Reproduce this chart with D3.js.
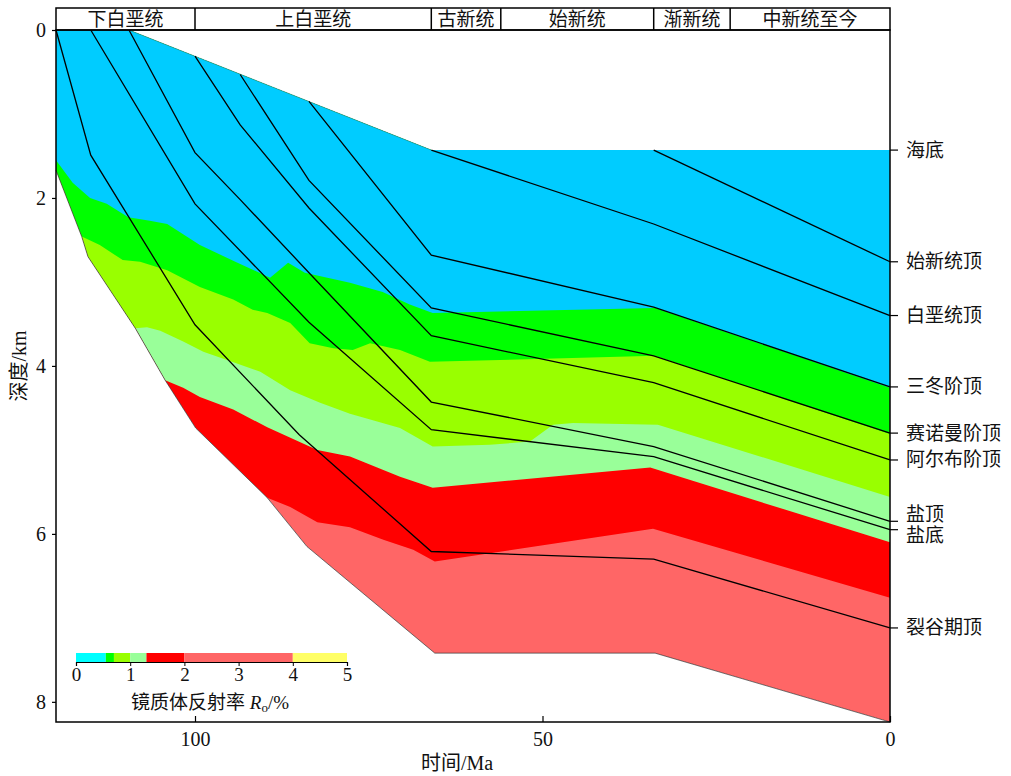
<!DOCTYPE html>
<html><head><meta charset="utf-8">
<script src="https://cdn.jsdelivr.net/npm/d3@7/dist/d3.min.js"></script>
<style>
body{margin:0;background:#fff;}
svg text{font-family:"Liberation Serif","Noto Sans CJK SC",serif;fill:#111;}
</style></head>
<body><svg id="c" width="1011" height="776"></svg>
<script>
// ---------- data ----------
const stageNames = ["下白垩统","上白垩统","古新统","始新统","渐新统","中新统至今"];
const stageBounds = [120, 100, 66, 56, 34, 23, 0];

const seafloor = [[120,0],[109.5,0],[66,1.43],[0,1.43]];
const basement = [[120,1.67],[116.3,2.46],[115.4,2.70],[108.6,3.55],[104.3,4.17],[99.9,4.74],[89.6,5.57],[83.9,6.15],[65.5,7.42],[33.8,7.42],[0,8.24]];

const horizonNames = ["始新统顶","白垩统顶","三冬阶顶","赛诺曼阶顶","阿尔布阶顶","盐顶","盐底","裂谷期顶"];
const hEocene    = [[34,1.43],[0,2.76]];
const hCret      = [[66,1.43],[34,2.31],[0,3.40]];
const hSantonian = [[83.6,0.85],[66,2.68],[34,3.30],[0,4.25]];
const hCenoman   = [[93.5,0.53],[83.6,1.79],[66,3.31],[34,3.88],[0,4.80]];
const hAlbian    = [[100,0.31],[93.5,1.13],[83.6,2.12],[66,3.64],[34,4.20],[0,5.12]];
const hSaltTop   = [[109.5,0],[100,1.46],[93.5,2.02],[83.6,2.89],[66,4.43],[34,4.96],[0,5.85]];
const hSaltBase  = [[115,0],[100,2.07],[83.6,3.48],[66,4.76],[34,5.08],[0,5.95]];
const hRift      = [[120,0],[115,1.49],[100,3.51],[85,4.82],[66,6.21],[34,6.30],[0,7.12]];
const horizons = [hEocene,hCret,hSantonian,hCenoman,hAlbian,hSaltTop,hSaltBase,hRift];

// Ro iso-lines (boundary below each zone)
const ro055 = [[120,1.55],[117.6,1.82],[115.1,2.00],[112.7,2.07],[109.6,2.23],[106.5,2.27],[104,2.31],[99.3,2.56],[94.2,2.76],[89.2,2.95],[86.6,2.77],[84.2,2.89],[77.7,3.01],[73,3.12],[69.1,3.27],[65.8,3.37],[33.8,3.31],[0,4.26]];
const ro07  = [[116.3,2.46],[113.7,2.56],[110.4,2.74],[107.9,2.76],[104,2.86],[99.3,3.06],[94.5,3.21],[91.7,3.33],[89.6,3.37],[86.3,3.49],[83.5,3.73],[80.1,3.79],[77.3,3.81],[74.8,3.73],[70.5,3.81],[66.2,3.95],[33.8,3.88],[0,4.81]];
const ro10  = [[108.6,3.55],[106.9,3.54],[105,3.58],[101.7,3.71],[98.8,3.83],[95.4,3.93],[90.6,4.07],[86.3,4.29],[82,4.44],[77.7,4.57],[70.5,4.74],[65.8,4.96],[57.6,4.94],[51.8,4.90],[48.5,4.70],[45.6,4.68],[33.4,4.70],[0,5.56]];
const ro13  = [[104.3,4.17],[101.7,4.26],[99.3,4.37],[94.5,4.52],[89.6,4.73],[82.4,5.00],[77.7,5.08],[70.5,5.32],[65.8,5.45],[34.5,5.21],[0,6.10]];
const ro20  = [[89.6,5.57],[86.3,5.68],[82.4,5.86],[77.7,5.92],[72.9,6.07],[68.6,6.19],[65.5,6.33],[34.1,5.94],[0,6.76]];

const zoneColors = ["#00CCFF","#00FF00","#99FF00","#99FF99","#FF0000","#FF6666"];
const legendBreaks = [0,0.55,0.7,1.0,1.3,2.0,4.0,5.0];
const legendColors = ["#00FFFF","#00FF00","#99FF00","#99FF99","#FF0000","#FF6666","#FFFF66"];
const legendTicks = [0,1,2,3,4,5];
const depthTicks = [0,2,4,6,8];
const timeTicks = [100,50,0];

// ---------- drawing ----------
const svg = d3.select("#c");
const x = d3.scaleLinear().domain([120,0]).range([56,890]);
const y = d3.scaleLinear().domain([0,8.24]).range([30,722]);
const line = d3.line().x(d=>x(d[0])).y(d=>y(d[1]));

// section polygon: seafloor + right edge + basement reversed
const section = seafloor.concat([[0,8.24]]).concat(basement.slice().reverse());
svg.append("clipPath").attr("id","sec").append("path").attr("d", line(section)+"Z");

const g = svg.append("g").attr("clip-path","url(#sec)");
g.append("path").attr("d", line(section)+"Z").attr("fill", zoneColors[5]);

const isos = [ro20, ro13, ro10, ro07, ro055];
const isoColors = [zoneColors[4], zoneColors[3], zoneColors[2], zoneColors[1], zoneColors[0]];
isos.forEach((iso,i)=>{
  const t0 = iso[0][0];
  const ext = basement.filter(p=>p[0] > t0 + 0.01);
  const poly = [[121,-1]].concat(ext, iso, [[-1,iso[iso.length-1][1]],[-1,-1]]);
  g.append("path").attr("d", line(poly)+"Z").attr("fill", isoColors[i]);
});

// outline strokes
svg.append("path").attr("d", line(basement)).attr("fill","none").attr("stroke","#333").attr("stroke-width",0.7);
svg.append("path").attr("d", line(seafloor.slice(1,3))).attr("fill","none").attr("stroke","#2a6f8a").attr("stroke-width",0.5);

// horizons
horizons.forEach(h=>{
  svg.append("path").attr("d", line(h)).attr("fill","none").attr("stroke","#000").attr("stroke-width",1.3);
});

// frame
svg.append("rect").attr("x",56).attr("y",30).attr("width",834).attr("height",692)
  .attr("fill","none").attr("stroke","#000").attr("stroke-width",1.5);

// stage bar
svg.append("rect").attr("x",x(120)).attr("y",8).attr("width",x(0)-x(120)).attr("height",22)
  .attr("fill","none").attr("stroke","#000").attr("stroke-width",1.5);
stageBounds.slice(1,-1).forEach(b=>{
  svg.append("line").attr("x1",x(b)).attr("x2",x(b)).attr("y1",8).attr("y2",30).attr("stroke","#000").attr("stroke-width",1.5);
});
stageNames.forEach((n,i)=>{
  svg.append("text").attr("x",(x(stageBounds[i])+x(stageBounds[i+1]))/2).attr("y",19)
    .attr("text-anchor","middle").attr("dominant-baseline","central").attr("font-size",19).text(n);
});

// left axis
const ya = svg.append("g").attr("transform","translate(56,0)")
  .call(d3.axisLeft(y).tickValues(depthTicks).tickSize(4).tickPadding(6).tickFormat(d3.format("d")));
ya.select(".domain").remove();
ya.selectAll("text").attr("font-size",20).attr("font-family","Liberation Serif");
ya.selectAll("line").attr("stroke-width",1.2);

// bottom axis
const xa = svg.append("g").attr("transform","translate(0,722)")
  .call(d3.axisBottom(x).tickValues(timeTicks).tickSizeInner(-6).tickSizeOuter(0).tickPadding(10).tickFormat(d3.format("d")));
xa.select(".domain").remove();
xa.selectAll("text").attr("font-size",20).attr("font-family","Liberation Serif");
xa.selectAll("line").attr("stroke-width",1.2);

svg.append("text").attr("x",457).attr("y",763).attr("text-anchor","middle").attr("dominant-baseline","central")
  .attr("font-size",20).text("时间/Ma");
svg.append("text").attr("transform","translate(19,366) rotate(-90)").attr("text-anchor","middle")
  .attr("dominant-baseline","central").attr("font-size",20).text("深度/km");

// right labels
const ends = [{n:"海底", d:seafloor[seafloor.length-1][1]}].concat(
  horizons.map((h,i)=>({n:horizonNames[i], d:h[h.length-1][1]})));
ends.forEach(e=>{ e.ty = y(e.d); e.ly = e.ty; });
ends.sort((a,b)=>a.ty-b.ty);
for(let k=0;k<5;k++){
  for(let i=1;i<ends.length;i++){
    const gap = ends[i].ly - ends[i-1].ly;
    if(gap < 21){ const s=(21-gap)/2; ends[i].ly += s; ends[i-1].ly -= s; }
  }
}
ends.forEach(e=>{
  svg.append("line").attr("x1",890).attr("x2",898).attr("y1",e.ty).attr("y2",e.ty).attr("stroke","#000").attr("stroke-width",1.2);
  svg.append("text").attr("x",906).attr("y",e.ly).attr("dominant-baseline","central").attr("font-size",19).text(e.n);
});

// legend
const lx = d3.scaleLinear().domain([0,5]).range([76,347]);
legendColors.forEach((c,i)=>{
  svg.append("rect").attr("x",lx(legendBreaks[i])).attr("y",653).attr("width",lx(legendBreaks[i+1])-lx(legendBreaks[i]))
    .attr("height",9).attr("fill",c);
});
const la = svg.append("g").attr("transform","translate(0,662)")
  .call(d3.axisBottom(lx).tickValues(legendTicks).tickSize(4).tickPadding(2).tickFormat(d3.format("d")));
la.select(".domain").attr("stroke-width",1.2);
la.selectAll("text").attr("font-size",19).attr("font-family","Liberation Serif");
const lt = svg.append("text").attr("x",210).attr("y",702).attr("text-anchor","middle").attr("dominant-baseline","central").attr("font-size",19);
lt.append("tspan").text("镜质体反射率 ");
lt.append("tspan").attr("font-style","italic").attr("font-family","Liberation Serif").text("R");
lt.append("tspan").attr("font-size",13).attr("dy",5).attr("font-family","Liberation Serif").text("o");
lt.append("tspan").attr("dy",-5).attr("font-family","Liberation Serif").text("/%");
</script></body></html>
